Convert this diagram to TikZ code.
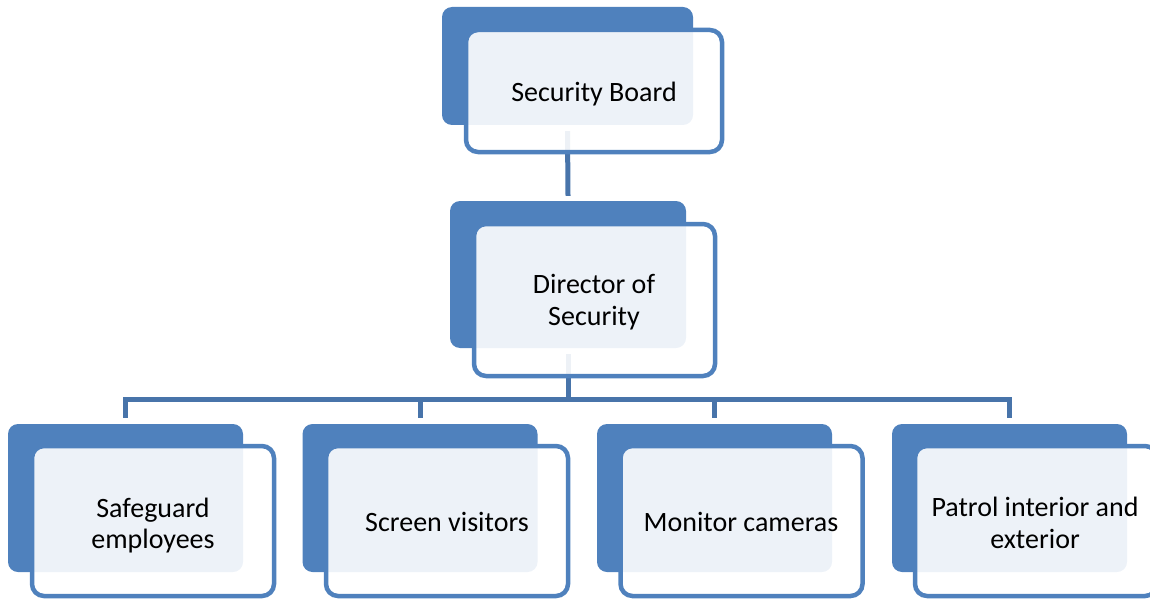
\documentclass[tikz,border=0pt]{standalone}
\usepackage{fontspec}
\setmainfont{Carlito}
\definecolor{boxblue}{HTML}{4F81BD}
\definecolor{connblue}{HTML}{4874AA}
\tikzset{
  darkbox/.style={draw=none, fill=boxblue, rounded corners=10pt, inner sep=0pt, minimum width=235pt, minimum height=148pt},
  frontbox/.style={draw=boxblue, line width=4.5pt, fill=white, fill opacity=0.9, draw opacity=1, rounded corners=12pt, inner sep=0pt, minimum width=242pt, minimum height=150pt},
  label/.style={text=black, font={\fontsize{28}{31.5}\selectfont}, align=center, inner sep=0pt},
  conn/.style={draw=connblue, line width=5pt, line join=miter}
}
\begin{document}
\begin{tikzpicture}[x=1pt,y=-1pt]
\useasboundingbox (0,0) rectangle (1150,599);
\clip (0,0) rectangle (1150,599);
% back (dark) boxes
\node[darkbox, minimum width=251pt, minimum height=118pt] (topd) at (567.5,66) {};
\node[darkbox, minimum width=236pt, minimum height=147pt] (dird) at (568,274.5) {};
\node[darkbox] (b1d) at (125.5,498) {};
\node[darkbox] (b2d) at (420,498) {};
\node[darkbox] (b3d) at (714.5,498) {};
\node[darkbox] (b4d) at (1009.5,498) {};
% connectors
\coordinate (bus) at (568,399);
\draw[conn] ([yshift=-6pt]topd.south) -- ([yshift=5pt]dird.north);
\draw[conn] ([yshift=-6pt]dird.south) -- (bus);
\draw[conn] ([yshift=6pt]b1d.north) |- (bus -| b4d.north) -- ([yshift=6pt]b4d.north);
\draw[conn] (b2d.north |- bus) -- ([yshift=6pt]b2d.north);
\draw[conn] (b3d.north |- bus) -- ([yshift=6pt]b3d.north);
% front boxes
\node[frontbox, minimum width=256pt, minimum height=122pt] (topf) at (594,91) {};
\node[frontbox, minimum width=241pt, minimum height=152pt] (dirf) at (594.5,300) {};
\node[frontbox] (b1f) at (153,521) {};
\node[frontbox] (b2f) at (447,521) {};
\node[frontbox] (b3f) at (741.5,521) {};
\node[frontbox] (b4f) at (1036,521) {};
% texts
\node[label, anchor=base] (t0) at (594,101.5) {Security Board};
\node[label] (t1) at (594,302) {Director of\\Security};
\node[label] (t2) at (153,525.5) {Safeguard\\employees};
\node[label, anchor=base] (t3) at (447,531) {Screen visitors};
\node[label, anchor=base] (t4) at (741,531) {Monitor cameras};
\node[label] (t5) at (1035,523) {Patrol interior and\\exterior};
\end{tikzpicture}
\end{document}
